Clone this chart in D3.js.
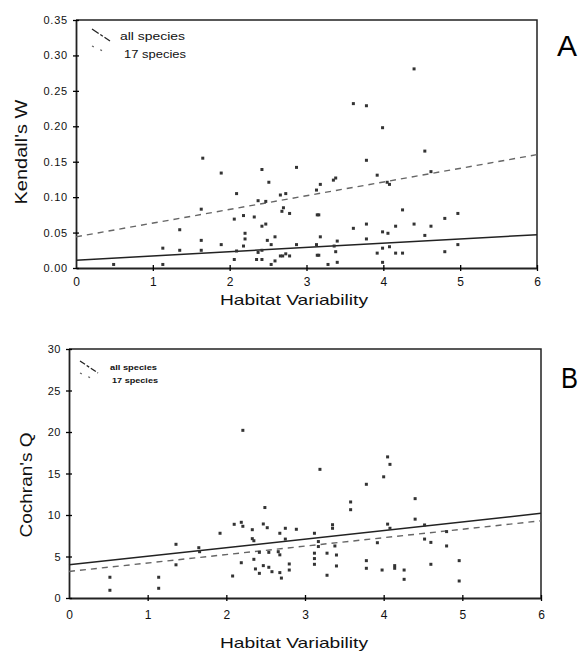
<!DOCTYPE html>
<html>
<head>
<meta charset="utf-8">
<script src="https://cdn.jsdelivr.net/npm/d3@7"></script>
<style>
  body { margin: 0; background: #fff; }
  svg { display: block; font-family: "Liberation Sans", Arial, sans-serif; }
</style>
</head>
<body>
<svg id="stage" width="579" height="653"></svg>
<script>
// panel A: Kendall's W vs habitat variability
const habA = [0.49, 1.13, 1.13, 1.35, 1.35, 1.63, 1.63, 1.63, 1.65, 1.89, 1.89, 2.09, 2.06, 2.09, 2.06,
  2.18, 2.20, 2.20, 2.18, 2.32, 2.37, 2.42, 2.42, 2.47, 2.51, 2.47, 2.35, 2.42, 2.42, 2.37, 2.49, 2.54,
  2.59, 2.54, 2.59, 2.66, 2.73, 2.68, 2.70, 2.78, 2.66, 2.69, 2.73, 2.78, 2.87, 2.87,
  3.13, 3.18, 3.35, 3.38, 3.14, 3.16, 3.18, 3.13, 3.14, 3.16, 3.28, 3.36, 3.38, 3.40, 3.40,
  3.61, 3.78, 3.78, 3.61, 3.78, 3.78, 3.99, 3.92, 4.05, 4.08, 3.99, 4.06, 3.99, 4.08, 3.92, 3.99,
  4.16, 4.16, 4.25, 4.25, 4.40, 4.40, 4.54, 4.54, 4.62, 4.62, 4.80, 4.80, 4.97, 4.97];
const kendallW = [0.005, 0.028, 0.005, 0.054, 0.025, 0.083, 0.039, 0.025, 0.155, 0.134, 0.033, 0.105, 0.069, 0.024, 0.012,
  0.074, 0.049, 0.041, 0.031, 0.072, 0.095, 0.139, 0.059, 0.062, 0.121, 0.094, 0.012, 0.012, 0.025, 0.022, 0.039, 0.033,
  0.044, 0.005, 0.010, 0.103, 0.105, 0.080, 0.085, 0.077, 0.017, 0.017, 0.020, 0.017, 0.142, 0.033,
  0.110, 0.118, 0.124, 0.127, 0.075, 0.075, 0.044, 0.033, 0.018, 0.018, 0.005, 0.031, 0.023, 0.038, 0.008,
  0.232, 0.229, 0.152, 0.056, 0.062, 0.041, 0.198, 0.131, 0.121, 0.118, 0.051, 0.049, 0.028, 0.030, 0.021, 0.008,
  0.059, 0.021, 0.021, 0.082, 0.281, 0.062, 0.165, 0.046, 0.059, 0.136, 0.070, 0.023, 0.077, 0.033];

// panel B: Cochran's Q vs habitat variability
const habB = [0.52, 0.52, 1.14, 1.14, 1.36, 1.36, 1.65, 1.66, 1.92, 2.08, 2.10, 2.19, 2.21, 2.21, 2.19,
  2.33, 2.33, 2.35, 2.35, 2.37, 2.42, 2.47, 2.52, 2.49, 2.47, 2.54, 2.58, 2.42, 2.54, 2.66, 2.68, 2.68,
  2.75, 2.75, 2.68, 2.70, 2.80, 2.80, 2.89,
  3.12, 3.17, 3.17, 3.12, 3.12, 3.12, 3.19, 3.28, 3.28, 3.35, 3.35, 3.38, 3.40, 3.40, 3.58, 3.58,
  3.78, 3.78, 3.78, 3.92, 3.98, 4.00, 4.05, 4.08, 4.05, 4.08, 4.14, 4.14, 4.26, 4.26, 4.40, 4.40,
  4.52, 4.52, 4.60, 4.60, 4.80, 4.80, 4.96, 4.96];
const cochranQ = [2.5, 0.93, 2.5, 1.17, 6.47, 4.0, 6.06, 5.58, 7.8, 2.65, 8.88, 9.12, 8.64, 20.2, 4.25,
  8.23, 7.15, 6.9, 4.66, 3.5, 2.97, 8.92, 8.47, 10.9, 3.9, 3.7, 3.17, 5.5, 5.5, 5.58, 5.2, 7.8,
  8.4, 7.1, 3.06, 2.4, 4.1, 3.37, 8.28,
  7.8, 6.8, 6.2, 5.4, 4.75, 4.06, 15.5, 5.4, 2.74, 8.83, 8.4, 6.27, 5.18, 3.86, 11.57, 10.64,
  13.7, 4.5, 3.58, 6.66, 3.37, 14.6, 17.0, 16.1, 8.9, 8.4, 3.9, 3.58, 3.37, 2.25, 11.97, 9.5,
  8.8, 7.1, 6.7, 4.06, 8.0, 6.27, 4.5, 2.05];

// fitted lines, value at x = 0 and x = 6
const fitX = [0, 6];
const fitA_all = [0.011, 0.047];
const fitA_17 = [0.044, 0.160];
const fitB_all = [4.0, 10.2];
const fitB_17 = [3.2, 9.3];

const xTicks = [0, 1, 2, 3, 4, 5, 6];
const yTicksA = [0, 0.05, 0.10, 0.15, 0.20, 0.25, 0.30, 0.35];
const yTicksB = [0, 5, 10, 15, 20, 25, 30];

const svg = d3.select('#stage');

function panel(opt) {
  const x = d3.scaleLinear().domain([0, 6]).range([opt.left, opt.right]);
  const y = d3.scaleLinear().domain(opt.yDomain).range([opt.bottom, opt.top]);
  const g = svg.append('g');

  // frame (top + right)
  g.append('path')
    .attr('d', `M${opt.left},${opt.top}H${opt.right}V${opt.bottom}`)
    .attr('fill', 'none').attr('stroke', '#222').attr('stroke-width', 1.5);

  // axes with crossing ticks
  const xa = g.append('g').attr('transform', `translate(0,${opt.bottom})`)
    .call(d3.axisBottom(x).tickValues(xTicks).tickFormat(d3.format('d'))
      .tickSize(3).tickPadding(opt.xPad).tickSizeOuter(0));
  xa.selectAll('.tick line').attr('y1', -3).attr('stroke-width', 1.3);
  xa.selectAll('text').attr('font-size', 12);
  const ya = g.append('g').attr('transform', `translate(${opt.left},0)`)
    .call(d3.axisLeft(y).tickValues(opt.yTicks).tickFormat(opt.fmt)
      .tickSize(3).tickPadding(5).tickSizeOuter(0));
  ya.selectAll('.tick line').attr('x1', 3).attr('stroke-width', 1.3);
  ya.selectAll('text').attr('font-size', 11).attr('letter-spacing', opt.ls);
  [xa, ya].forEach(a => {
    a.select('.domain').attr('stroke', '#222').attr('stroke-width', 1.8);
    a.selectAll('text').attr('fill', '#111')
      .attr('font-family', '"Liberation Sans", Arial, sans-serif');
  });
  xa.selectAll('.tick').filter(d => d === 0).select('line').remove();

  // fitted lines
  const line = d3.line().x(d => x(d[0])).y(d => y(d[1]));
  g.append('path').datum(fitX.map((v, i) => [v, opt.fit17[i]]))
    .attr('d', line).attr('fill', 'none').attr('stroke', '#666')
    .attr('stroke-width', 1.4).attr('stroke-dasharray', '6,5');
  g.append('path').datum(fitX.map((v, i) => [v, opt.fitAll[i]]))
    .attr('d', line).attr('fill', 'none').attr('stroke', '#222').attr('stroke-width', 1.5);

  // points
  g.selectAll('rect.pt').data(opt.xs.map((v, i) => [v, opt.ys[i]]))
    .join('rect').attr('class', 'pt')
    .attr('x', d => x(d[0]) - 1.5).attr('y', d => y(d[1]) - 1.5)
    .attr('width', 3).attr('height', 3).attr('fill', '#333');

  // axis titles
  g.append('text').attr('x', 294).attr('y', opt.xTitleY)
    .attr('text-anchor', 'middle').attr('font-size', 15).attr('fill', '#111')
    .attr('textLength', 148).attr('lengthAdjust', 'spacingAndGlyphs')
    .text('Habitat Variability');
  g.append('text')
    .attr('transform', `translate(${opt.yTitleX},${opt.yTitleY}) rotate(-90)`)
    .attr('text-anchor', 'middle').attr('font-size', 16).attr('fill', '#111')
    .attr('textLength', 105).attr('lengthAdjust', 'spacingAndGlyphs')
    .text(opt.yTitle);

  // panel letter
  g.append('text').attr('x', opt.letterX).attr('y', opt.letterY)
    .attr('font-size', 29).attr('fill', '#000')
    .attr('textLength', opt.letterW).attr('lengthAdjust', 'spacingAndGlyphs').text(opt.letter);

  // legend
  const lg = opt.legend;
  g.append('line').attr('x1', lg.x).attr('y1', lg.y).attr('x2', lg.x + 18).attr('y2', lg.y + 12)
    .attr('stroke', '#222').attr('stroke-width', 1.3).attr('stroke-dasharray', lg.dash);
  g.append('line').attr('x1', lg.x).attr('y1', lg.y + lg.gap - 1).attr('x2', lg.x + 11).attr('y2', lg.y + lg.gap + 4)
    .attr('stroke', '#666').attr('stroke-width', 1.3).attr('stroke-dasharray', '2,7');
  const lt = [['all species', 0], ['17 species', lg.gap]];
  lt.forEach(([t, dy]) => {
    const tx = g.append('text').attr('x', lg.tx + (dy ? lg.dx : 0)).attr('y', lg.y + lg.ty + dy)
      .attr('font-size', lg.fs).attr('fill', '#111')
      .attr('textLength', dy ? lg.w - lg.dx + 1 : lg.w).attr('lengthAdjust', 'spacingAndGlyphs').text(t);
    if (lg.bold) tx.attr('font-weight', 'bold');
  });
}

panel({
  left: 76, right: 537, top: 20, bottom: 268, yDomain: [0, 0.35], yTicks: yTicksA,
  fmt: d3.format('.2f'), ls: 0.8, xs: habA, ys: kendallW, fitAll: fitA_all, fit17: fitA_17,
  xPad: 6, xTitleY: 305, yTitle: "Kendall's W", yTitleX: 27, yTitleY: 152,
  letter: 'A', letterX: 557, letterY: 56, letterW: 20,
  legend: {x: 92, y: 29, tx: 120, dx: 4, ty: 11, gap: 18, fs: 11, w: 65, dash: '8,2,3,2'}
});

panel({
  left: 69, right: 541, top: 349, bottom: 598, yDomain: [0, 30], yTicks: yTicksB,
  fmt: d3.format('d'), ls: 0.5, xs: habB, ys: cochranQ, fitAll: fitB_all, fit17: fitB_17,
  xPad: 9, xTitleY: 648, yTitle: "Cochran's Q", yTitleX: 32, yTitleY: 485,
  letter: 'B', letterX: 561, letterY: 388, letterW: 17,
  legend: {x: 80, y: 361, tx: 110, dx: 2, ty: 9, gap: 13, fs: 8, w: 47, bold: true, dash: '6,2,3,2'}
});
</script>
</body>
</html>
